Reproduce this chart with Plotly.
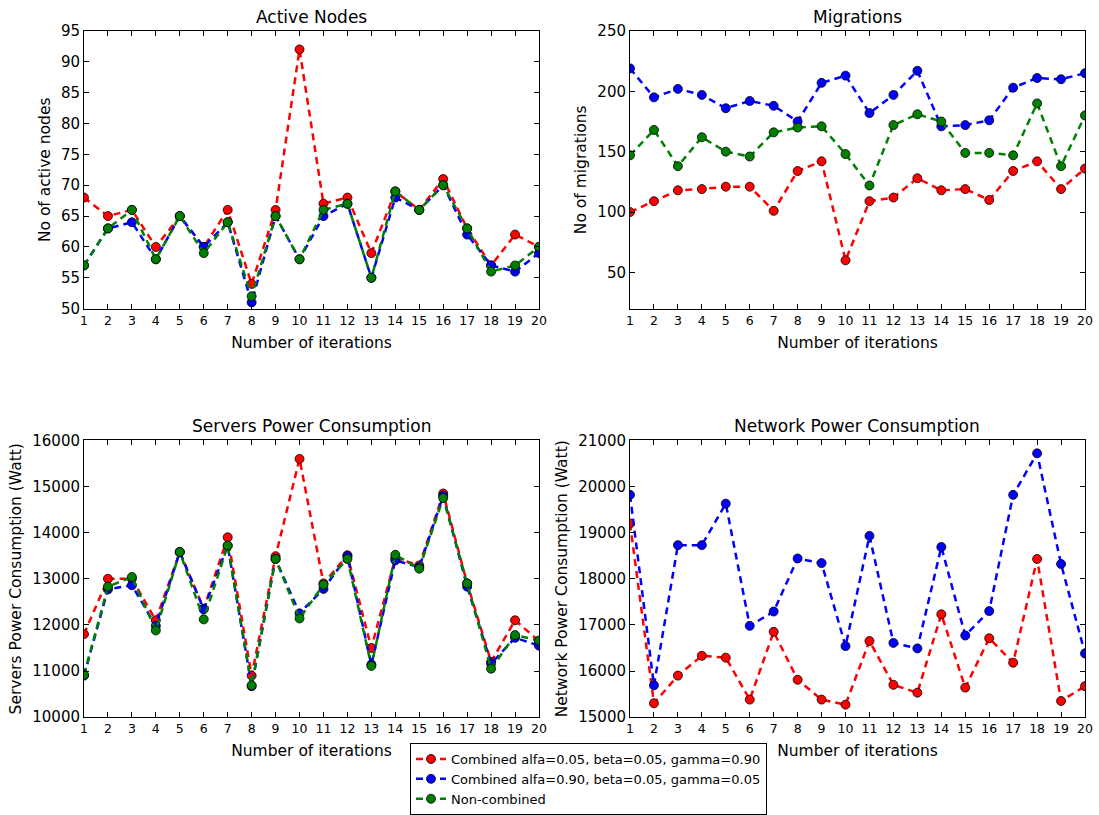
import plotly.graph_objects as go

iterations = list(range(1, 21))

# Active Nodes
nodes_red = [68, 65, 66, 60, 65, 60, 66, 54, 66, 92, 67, 68, 59, 69, 66, 71, 63, 57, 62, 60]
nodes_blue = [57, 63, 64, 58, 65, 60, 64, 51, 65, 58, 65, 67, 55, 68, 66, 70, 62, 57, 56, 59]
nodes_green = [57, 63, 66, 58, 65, 59, 64, 52, 65, 58, 66, 67, 55, 69, 66, 70, 63, 56, 57, 60]

# Migrations
mig_red = [100, 109, 118, 119, 121, 121, 101, 134, 142, 60, 109, 112, 128, 118, 119, 110, 134, 142, 119, 136]
mig_blue = [219, 195, 202, 197, 186, 192, 188, 175, 207, 213, 182, 197, 217, 171, 172, 176, 203, 211, 210, 215]
mig_green = [147, 168, 138, 162, 150, 146, 166, 170, 171, 148, 122, 172, 181, 175, 149, 149, 147, 190, 138, 180]

# Servers Power Consumption
srv_red = [11800, 13000, 13000, 12100, 13580, 12350, 13900, 10900, 13490, 15600, 12900, 13510, 11500, 13450, 13290, 14850, 12900, 11200, 12100, 11650]
srv_blue = [10900, 12770, 12860, 11980, 13580, 12340, 13720, 10670, 13430, 12250, 12780, 13490, 11140, 13400, 13250, 14800, 12830, 11160, 11720, 11550]
srv_green = [10920, 12830, 13040, 11880, 13580, 12120, 13720, 10690, 13430, 12140, 12870, 13430, 11110, 13520, 13220, 14750, 12900, 11050, 11780, 11660]

# Network Power Consumption
net_red = [19200, 15300, 15900, 16330, 16290, 15380, 16850, 15810, 15380, 15270, 16650, 15700, 15530, 17230, 15640, 16710, 16180, 18430, 15350, 15670]
net_blue = [19820, 15690, 18730, 18730, 19630, 16980, 17290, 18440, 18340, 16540, 18930, 16610, 16490, 18690, 16770, 17300, 19820, 20720, 18320, 16380]

names = ["Combined alfa=0.05, beta=0.05, gamma=0.90",
         "Combined alfa=0.90, beta=0.05, gamma=0.05",
         "Non-combined"]
colors = ["#ff0000", "#0000ff", "#008000"]

titles = ["Active Nodes", "Migrations", "Servers Power Consumption", "Network Power Consumption"]
ytitles = ["No of active nodes", "No of migrations", "Servers Power Consumption (Watt)", "Network Power Consumption (Watt)"]
yranges = [[50, 95], [20, 250], [10000, 16000], [15000, 21000]]
ydtick = [5, 50, 1000, 1000]
ytick0 = [50, 50, 10000, 15000]

panels = [
    [nodes_red, nodes_blue, nodes_green],
    [mig_red, mig_blue, mig_green],
    [srv_red, srv_blue, srv_green],
    [net_red, net_blue, None],
]

W, H = 1099, 815
xdoms = [[84 / W, 539 / W], [630 / W, 1085 / W]]
ydoms = [[1 - 309 / H, 1 - 31 / H], [1 - 718 / H, 1 - 441 / H]]

fig = go.Figure()
font = "DejaVu Sans"

for p in range(4):
    r, c = divmod(p, 2)
    xa = "x" if p == 0 else f"x{p+1}"
    ya = "y" if p == 0 else f"y{p+1}"
    for s in range(3):
        vals = panels[p][s]
        if vals is None:
            continue
        fig.add_trace(go.Scatter(
            x=iterations, y=vals, mode="lines+markers", name=names[s],
            xaxis=xa, yaxis=ya, showlegend=(p == 0),
            line=dict(color=colors[s], width=2.5, dash="7px,5px"),
            marker=dict(color=colors[s], size=9, line=dict(color="#000000", width=0.8)),
        ))
    axkw = dict(showline=True, linecolor="black", linewidth=1, mirror="ticks",
                ticks="inside", ticklen=5, tickcolor="black", showgrid=False,
                zeroline=False, automargin=False)
    xkey = "xaxis" if p == 0 else f"xaxis{p+1}"
    ykey = "yaxis" if p == 0 else f"yaxis{p+1}"
    fig.update_layout({
        xkey: dict(domain=xdoms[c], anchor=ya, range=[1, 20], tickmode="linear",
                   tick0=1, dtick=1, tickfont=dict(size=12.5, family=font, color="black"),
                   title=dict(text="Number of iterations", font=dict(size=15.5, family=font, color="black"), standoff=10),
                   **axkw),
        ykey: dict(domain=ydoms[r], anchor=xa, range=yranges[p], tickmode="linear",
                   tick0=ytick0[p], dtick=ydtick[p], tickformat="d",
                   tickfont=dict(size=15, family=font, color="black"),
                   title=dict(text=ytitles[p], font=dict(size=15.5, family=font, color="black"), standoff=6),
                   **axkw),
    })
    fig.add_annotation(text=titles[p], xref="paper", yref="paper",
                       x=(xdoms[c][0] + xdoms[c][1]) / 2, y=ydoms[r][1] + 14 / H,
                       xanchor="center", yanchor="middle", showarrow=False,
                       font=dict(size=17, family=font, color="black"))

fig.update_layout(
    width=W, height=H,
    margin=dict(l=0, r=0, t=0, b=0),
    paper_bgcolor="white", plot_bgcolor="white",
    font=dict(family=font, color="black"),
    legend=dict(x=410 / W, y=1 - 744 / H, xanchor="left", yanchor="top",
                bordercolor="black", borderwidth=1, bgcolor="white",
                font=dict(size=13, family=font, color="black"), itemwidth=30),
)

fig.write_html("out.html")
